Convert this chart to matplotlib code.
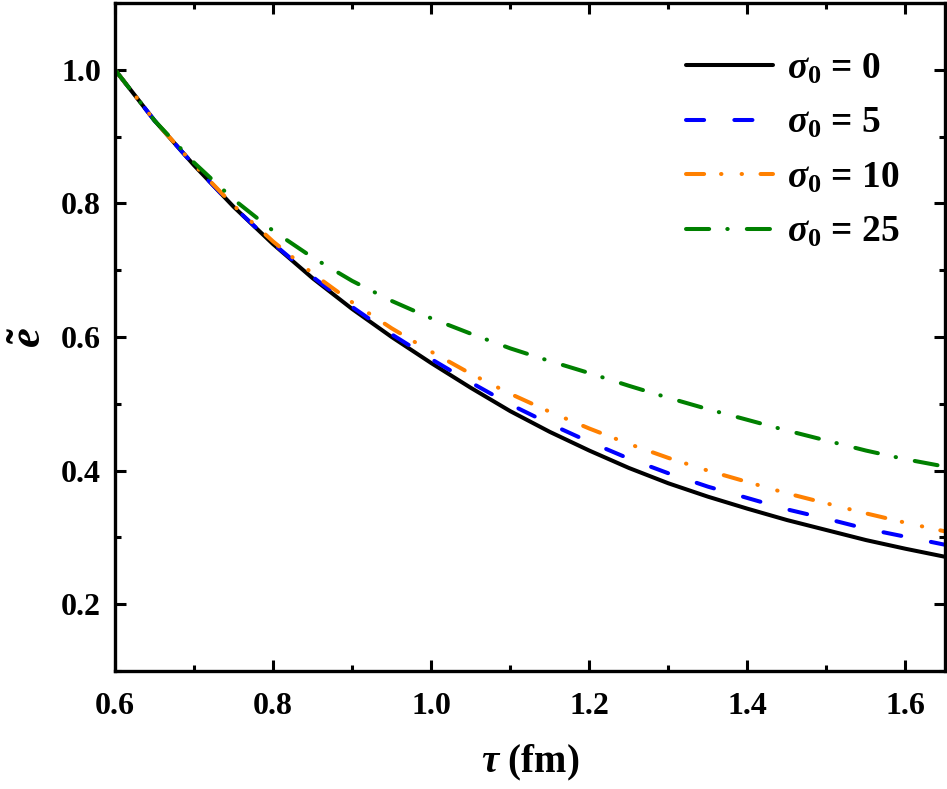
import matplotlib
matplotlib.use("Agg")
import matplotlib.pyplot as plt
from matplotlib.ticker import MultipleLocator

plt.rcParams['font.family'] = ['Liberation Serif', 'DejaVu Serif']
plt.rcParams['font.weight'] = 'bold'
plt.rcParams['mathtext.fontset'] = 'custom'
plt.rcParams['mathtext.it'] = 'Liberation Serif:italic:bold'
plt.rcParams['mathtext.rm'] = 'Liberation Serif:bold'
plt.rcParams['mathtext.bf'] = 'Liberation Serif:bold'

tau = [0.60, 0.65, 0.70, 0.75, 0.80, 0.85, 0.90, 0.95, 1.00, 1.05, 1.10,
       1.15, 1.20, 1.25, 1.30, 1.35, 1.40, 1.45, 1.50, 1.55, 1.60, 1.65]
e_sigma0 = [1.000, 0.924, 0.857, 0.795, 0.739, 0.688, 0.642, 0.600, 0.561,
            0.524, 0.489, 0.458, 0.430, 0.404, 0.381, 0.361, 0.343, 0.326,
            0.311, 0.296, 0.283, 0.271]
e_sigma5 = [1.000, 0.924, 0.857, 0.795, 0.740, 0.690, 0.645, 0.604, 0.567,
            0.532, 0.499, 0.470, 0.443, 0.418, 0.396, 0.376, 0.359, 0.342,
            0.328, 0.313, 0.301, 0.289]
e_sigma10 = [1.000, 0.924, 0.858, 0.797, 0.743, 0.695, 0.652, 0.613, 0.578,
             0.545, 0.515, 0.488, 0.463, 0.440, 0.419, 0.400, 0.383, 0.366,
             0.351, 0.336, 0.322, 0.309]
e_sigma25 = [1.000, 0.924, 0.861, 0.806, 0.759, 0.719, 0.684, 0.654, 0.628,
             0.605, 0.583, 0.564, 0.546, 0.527, 0.509, 0.492, 0.476, 0.460,
             0.445, 0.430, 0.417, 0.406]

labels = [r'$\sigma_{\mathit{0}}$ = 0', r'$\sigma_{\mathit{0}}$ = 5',
          r'$\sigma_{\mathit{0}}$ = 10', r'$\sigma_{\mathit{0}}$ = 25']
colors = ['black', '#0000FF', '#FF8000', '#008000']
styles = ['-', (0, (4.5, 7.5)), (0, (4.5, 4.2, 0.1, 5.0, 0.1, 4.6)),
          (0, (5.75, 4.5, 0.1, 4.75))]

fig = plt.figure(figsize=(9.47, 7.89), dpi=100)
ax = fig.add_axes([115/947, 1 - 671/789, 830/947, 668/789])

for ys, c, ls, lab in zip([e_sigma0, e_sigma5, e_sigma10, e_sigma25], colors, styles, labels):
    ax.plot(tau, ys, color=c, linestyle=ls, lw=2.9, label=lab,
            dash_capstyle='round', solid_capstyle='round')

ax.set_xlim(0.6, 1.65)
ax.set_ylim(0.1, 1.1)
ax.xaxis.set_major_locator(MultipleLocator(0.2))
ax.xaxis.set_minor_locator(MultipleLocator(0.1))
ax.yaxis.set_major_locator(MultipleLocator(0.2))
ax.yaxis.set_minor_locator(MultipleLocator(0.1))
ax.set_yticks([0.2, 0.4, 0.6, 0.8, 1.0])
ax.tick_params(which='both', direction='in', top=True, right=True, width=2.2,
               labelsize=23)
ax.tick_params(axis='x', which='both', pad=15)
ax.tick_params(axis='y', which='both', pad=10)
ax.tick_params(which='major', length=8)
ax.tick_params(which='minor', length=4.3)
for s in ax.spines.values():
    s.set_linewidth(2.4)
for lab in ax.get_xticklabels() + ax.get_yticklabels():
    lab.set_fontweight('bold')

ax.set_xlabel(r'$\tau$ (fm)', fontsize=28, fontweight='bold', labelpad=16)
ax.set_ylabel(r'$\tilde{e}$', fontsize=32, fontweight='bold', labelpad=8)

leg = ax.legend(loc='upper right', frameon=False, fontsize=27, handlelength=2.3,
                labelspacing=0.52, handletextpad=0.38, borderaxespad=0.0,
                bbox_to_anchor=(0.963, 0.95))

fig.savefig('out.png', dpi=100)
